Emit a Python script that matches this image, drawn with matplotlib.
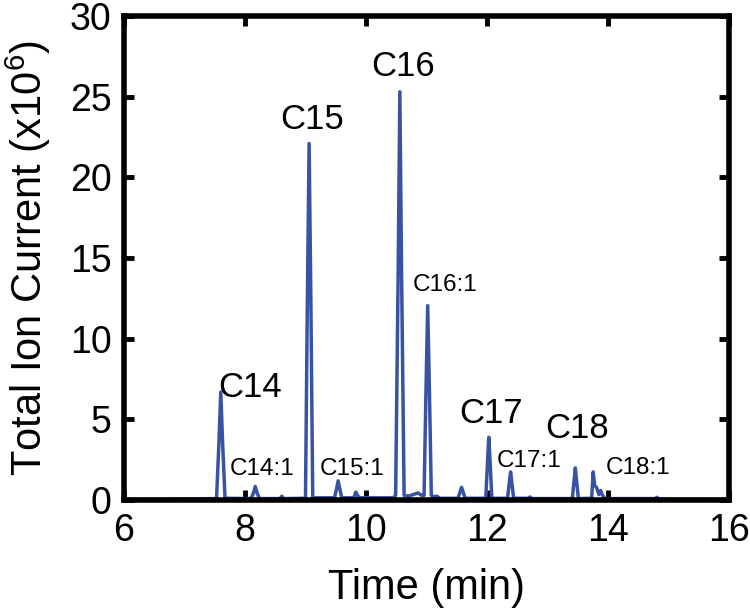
import numpy as np
import matplotlib.pyplot as plt

plt.rcParams['font.family'] = 'Liberation Sans'
plt.rcParams['mathtext.default'] = 'regular'

# chromatogram trace (time in min, TIC in 10^6)
time = [6.00, 7.00, 7.53, 7.57, 7.60, 7.63, 7.67, 8.10, 8.14, 8.17, 8.20, 8.24,
        8.58, 8.61, 8.64, 9.00, 9.03, 9.06, 9.09, 9.12, 9.48, 9.51, 9.54, 9.57,
        9.60, 9.80, 9.83, 9.86, 9.89, 10.45, 10.49, 10.53, 10.56, 10.59, 10.63,
        10.70, 10.78, 10.86, 10.92, 10.96, 10.99, 11.02, 11.05, 11.08, 11.12,
        11.17, 11.22, 11.52, 11.55, 11.58, 11.61, 11.64, 11.98, 12.005, 12.03,
        12.055, 12.08, 12.34, 12.365, 12.39, 12.415, 12.44, 12.68, 12.71, 12.74,
        13.41, 13.435, 13.46, 13.485, 13.51, 13.73, 13.755, 13.78, 13.81, 13.85,
        13.88, 13.91, 13.95, 14.78, 14.81, 14.84, 16.00]
tic = [0.05, 0.08, 0.1, 3.6, 6.7, 3.6, 0.12, 0.1, 0.45, 0.85, 0.45, 0.1,
       0.1, 0.25, 0.1, 0.12, 12.0, 22.1, 12.0, 0.15, 0.15, 0.65, 1.2, 0.65,
       0.15, 0.15, 0.5, 0.3, 0.15, 0.15, 0.3, 13.5, 25.3, 13.5, 0.3,
       0.25, 0.35, 0.45, 0.3, 0.3, 6.5, 12.05, 6.5, 0.3, 0.2,
       0.25, 0.12, 0.12, 0.45, 0.8, 0.45, 0.12, 0.12, 2.1, 3.9,
       2.1, 0.12, 0.12, 0.95, 1.75, 0.95, 0.12, 0.12, 0.2, 0.1,
       0.1, 1.05, 2.0, 1.05, 0.1, 0.12, 1.75, 0.9, 0.8, 0.35,
       0.6, 0.3, 0.1, 0.1, 0.18, 0.08, 0.05]

# peak labels: name, x, baseline y
labels = ['C14', 'C15', 'C16', 'C17', 'C18']
labels_x = [8.08, 9.11, 10.61, 12.07, 13.49]
labels_y = [6.4, 23.0, 26.3, 4.77, 3.84]
sub_labels = ['C14:1', 'C15:1', 'C16:1', 'C17:1', 'C18:1']
sub_x = [8.28, 9.77, 11.31, 12.69, 14.5]
sub_y = [1.55, 1.55, 12.96, 2.05, 1.61]

fig = plt.figure(figsize=(7.5, 6.13), dpi=100)
ax = fig.add_axes([0.1653, 0.184, 0.8067, 0.79])

ax.plot(time, tic, color='#3953a4', lw=2.5, solid_joinstyle='round')

for name, x, y in zip(labels, labels_x, labels_y):
    ax.text(x, y, name, fontsize=25, ha='center', va='baseline')
for name, x, y in zip(sub_labels, sub_x, sub_y):
    ax.text(x, y, name, fontsize=17.5, ha='center', va='baseline')

ax.set_xlim(6, 16)
ax.set_ylim(0, 30)
ax.set_xticks(np.arange(6, 17, 2))
ax.set_yticks(np.arange(0, 31, 5))
ax.tick_params(direction='in', top=True, right=True, length=7.5, width=3.5,
               labelsize=27, pad=9)
for s in ax.spines.values():
    s.set_linewidth(4)

ax.set_xlabel('Time (min)', fontsize=30, labelpad=14)
ax.set_ylabel('Total Ion Current (x10$^{6}$)', fontsize=30, labelpad=12)

fig.savefig('out.png', dpi=100)
